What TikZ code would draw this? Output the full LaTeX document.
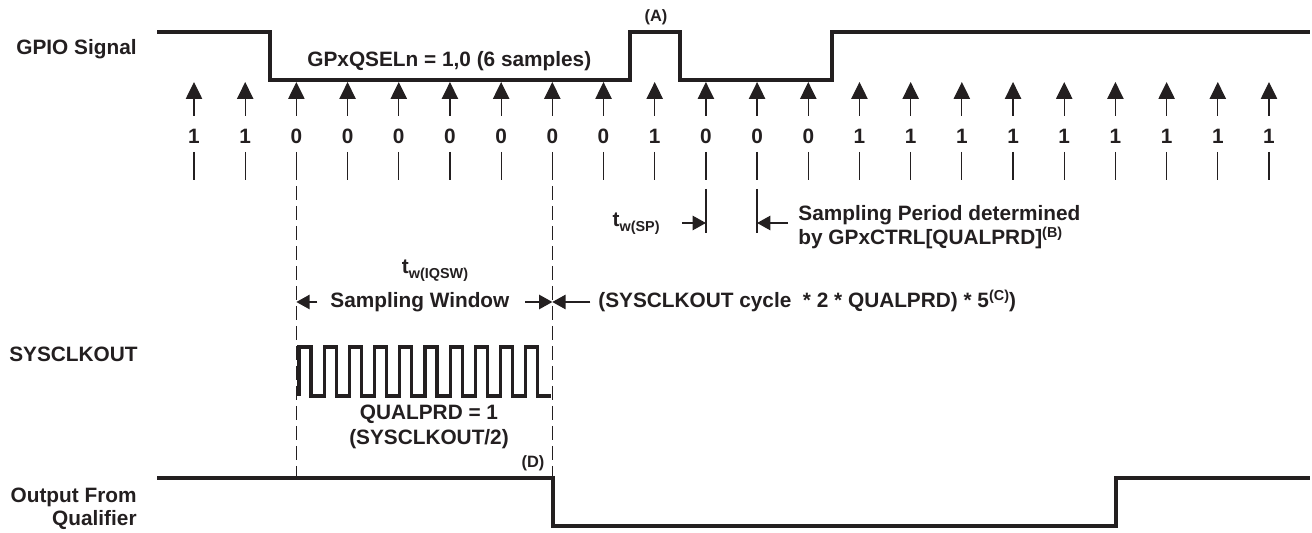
\documentclass[tikz,border=0pt]{standalone}
\usepackage{fontspec}
\setmainfont{Liberation Sans}
\usepackage{tikz}
\usetikzlibrary{arrows.meta,calc}
\definecolor{ink}{RGB}{35,31,32}
\newcommand{\lowtext}[1]{\raisebox{-2.2pt}{\fontsize{7.2}{7.2}\selectfont #1}}
\newcommand{\hightext}[1]{\raisebox{3.6pt}{\fontsize{7.2}{7.2}\selectfont #1}}

\begin{document}
\begin{tikzpicture}[x=0.5pt,y=-0.5pt,
    every node/.style={inner sep=0pt,text=ink,font=\bfseries\fontsize{10.4}{11.5}\selectfont},
    small/.style={font=\bfseries\fontsize{8.2}{9}\selectfont},
    wave/.style={draw=ink,line width=1.6pt},
    hair/.style={draw=ink,line width=0.6pt},
    vtip/.style={hair,-{Triangle[length=8.5pt,width=8.2pt]}},
    htip/.style={hair,-{Triangle[length=6.6pt,width=7.2pt]}},
    guide/.style={draw=ink,line width=0.5pt,dash pattern=on 7pt off 3pt,dash phase=7pt}]
  \useasboundingbox (0,0) rectangle (1312,533);

  \node[anchor=base east] (gpio) at (137,55) {GPIO Signal};
  \node[anchor=base east] (sysclk) at (138,362) {SYSCLKOUT};
  \node[anchor=east,align=right,font=\bfseries\fontsize{10.4}{11.5}\selectfont] (outq) at (137,509) {Output From\\Qualifier};

  \draw[wave] (157,32) -- (270,32) -- (270,80) -- (630,80) -- (630,32) -- (680,32)
    -- (680,80) -- (832,80) -- (832,32) -- (1310,32);
  \node[anchor=base west] (qsel) at (307,67) {GPxQSELn = 1,0 (6 samples)};
  \node[small,anchor=base] (markA) at (656,22) {(A)};

  \foreach \v [count=\k from 0] in {1,1,0,0,0,0,0,0,0,1,0,0,0,1,1,1,1,1,1,1,1,1} {
    \pgfmathsetmacro{\sx}{194+51.19*\k}
    \coordinate (tail\k) at (\sx,116);
    \coordinate (tip\k) at (\sx,82);
    \draw[vtip] (tail\k) -- (tip\k);
    \node[anchor=base] (d\k) at (\sx,144) {\v};
    \draw[hair] (\sx,152) -- (\sx,180);
  }

  \draw[guide] (tip2 |- 0,180) -- (tip2 |- 0,478);
  \draw[guide] (tip7 |- 0,180) -- (tip7 |- 0,478);
  \draw[hair] (tip10 |- 0,189) -- (tip10 |- 0,233);
  \draw[hair] (tip11 |- 0,189) -- (tip11 |- 0,233);

  \coordinate (p0) at (tip10 |- 0,223);
  \coordinate (p1) at (tip11 |- 0,223);
  \node[anchor=base east] (tsp) at (660,227) {t\lowtext{w(SP)}};
  \draw[htip] ($(p0)-(24,0)$) -- (p0);
  \draw[htip] ($(p1)+(31,0)$) -- (p1);
  \node[anchor=base west,align=left,font=\bfseries\fontsize{10.4}{9.8}\selectfont] (spd) at (798,245)
    {Sampling Period determined\\by GPxCTRL[QUALPRD]\hightext{(B)}};

  \coordinate (g0) at (tip2 |- 0,302);
  \coordinate (g1) at (tip7 |- 0,302);
  \node[anchor=base] (tiqsw) at (435,274) {t\lowtext{w(IQSW)}};
  \node[anchor=base west] (swin) at (330,308) {Sampling Window};
  \draw[htip] ($(g0)+(21,0)$) -- (g0);
  \draw[htip] ($(g1)-(27,0)$) -- (g1);
  \draw[htip] ($(g1)+(38,0)$) -- (g1);
  \node[anchor=base west] (cyc) at (598,308) {(SYSCLKOUT cycle\ \ * 2 * QUALPRD) * 5\hightext{(C)})};

  \draw[wave] (299,396) \foreach \k in {1,...,10} { -- ++(0,-49) -- ++(12,0) -- ++(0,49) -- ++(13.2,0) };
  \node[anchor=base,align=center,font=\bfseries\fontsize{10.4}{12.5}\selectfont] (qual) at (429,445) {QUALPRD = 1\\(SYSCLKOUT/2)};
  \node[small,anchor=base] (markD) at (533,468) {(D)};

  \draw[wave] (157,478) -- (553,478) -- (553,526) -- (1116,526) -- (1116,478) -- (1310,478);
\end{tikzpicture}
\end{document}
